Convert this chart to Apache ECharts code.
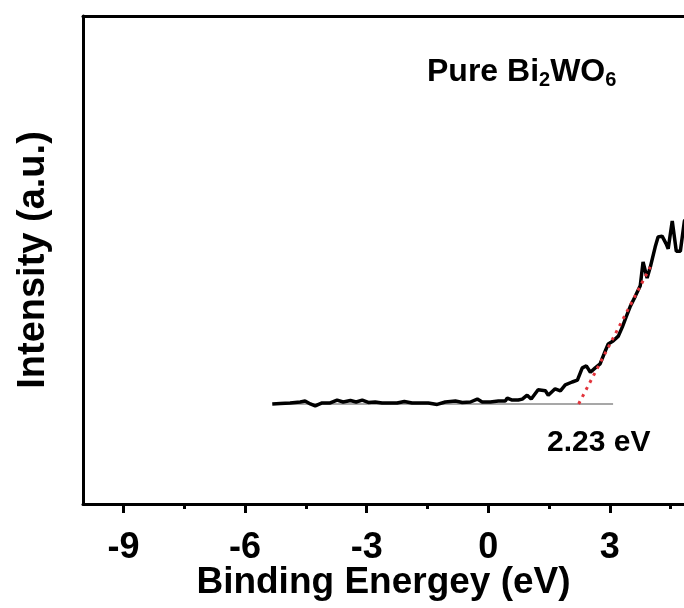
<!DOCTYPE html>
<html>
<head>
<meta charset="utf-8">
<script src="https://cdn.jsdelivr.net/npm/echarts@6/dist/echarts.min.js"></script>
<style>
  html, body { margin: 0; padding: 0; background: #fff; }
  #chart { width: 684px; height: 608px; }
</style>
</head>
<body>
<div id="chart"></div>
<script>
// VB spectrum (arbitrary intensity units 0-100)
const energy = [
  -5.33, -5.13, -4.89, -4.64, -4.52, -4.39, -4.27, -4.10, -3.90, -3.73,
  -3.58, -3.40, -3.26, -3.11, -2.96, -2.79, -2.62, -2.42, -2.25, -2.07,
  -1.88, -1.68, -1.48, -1.26, -1.06, -0.81, -0.64, -0.44, -0.27, -0.15,
  0.05, 0.25, 0.42, 0.47, 0.59, 0.74, 0.84, 0.96, 1.06, 1.23,
  1.41, 1.48, 1.65, 1.78, 1.90, 2.07, 2.20, 2.32, 2.42, 2.52,
  2.64, 2.76, 2.89, 2.96, 3.08, 3.21, 3.31, 3.40, 3.50, 3.63,
  3.75, 3.82, 3.92, 4.00, 4.12, 4.19, 4.29, 4.39, 4.44, 4.54,
  4.64, 4.74, 4.84, 4.98
];
const intensity = [
  20.5, 20.6, 20.7, 20.9, 21.1, 20.5, 20.1, 20.7, 20.7, 21.3,
  20.9, 21.2, 20.9, 21.3, 20.8, 20.9, 20.7, 20.7, 20.7, 21.0,
  20.7, 20.7, 20.7, 20.4, 20.9, 21.1, 20.8, 20.9, 21.5, 20.9,
  20.9, 21.1, 21.1, 21.7, 21.3, 21.3, 21.5, 22.3, 21.5, 23.4,
  23.2, 22.3, 23.6, 23.2, 24.4, 25.0, 25.4, 27.9, 28.3, 27.0,
  27.9, 28.7, 31.4, 32.8, 33.4, 34.4, 36.3, 38.3, 40.4, 42.6,
  44.7, 49.6, 46.3, 48.6, 52.7, 54.7, 54.9, 53.3, 52.3, 58.0,
  51.8, 51.8, 58.0, 59.4
];
// background line and band-edge tangent
const baseX = [-5.3, 3.08];
const baseY = [20.5, 20.5];
const tangentX = [2.23, 4.0];
const tangentY = [20.5, 48.6];

const majorTicks = [-9, -6, -3, 0, 3];
const minorTicks = [-7.5, -4.5, -1.5, 1.5, 4.5];

const zip = (xs, ys) => xs.map((x, i) => [x, ys[i]]);

const font = "'Liberation Sans', Arial, sans-serif";
const chart = echarts.init(document.getElementById("chart"));

const option = {
  animation: false,
  backgroundColor: "#fff",
  textStyle: { fontFamily: font },
  grid: { left: 83, right: 0, top: 16, bottom: 104, outerBoundsMode: "none", containLabel: false },
  title: {
    text: "{a|Pure Bi}{s|2}{a|WO}{s|6}",
    left: 422,
    top: 50,
    textStyle: {
      rich: {
        a: { fontSize: 32, fontWeight: "bold", color: "#000", fontFamily: font },
        s: { fontSize: 20, fontWeight: "bold", color: "#000", fontFamily: font, padding: [15, 0, 0, 0] },
      },
    },
  },
  graphic: [
    {
      type: "text",
      left: 547,
      top: 428,
      style: { text: "2.23 eV", font: "bold 30px " + font, fill: "#000" },
    },
  ],
  xAxis: [
    {
      type: "value",
      min: -10,
      max: 4.83,
      position: "bottom",
      name: "Binding Energey (eV)",
      nameLocation: "middle",
      nameGap: 60,
      nameMoveOverlap: false,
      nameTextStyle: { fontSize: 37, fontWeight: "bold", color: "#000", fontFamily: font },
      axisLine: { show: true, onZero: false, lineStyle: { color: "#000", width: 3 } },
      axisTick: { show: true, customValues: majorTicks, length: 9, lineStyle: { color: "#000", width: 3 } },
      axisLabel: {
        customValues: majorTicks,
        margin: 26,
        fontSize: 36,
        fontWeight: "bold",
        color: "#000",
        fontFamily: font,
      },
      splitLine: { show: false },
    },
    {
      type: "value",
      min: -10,
      max: 4.83,
      position: "bottom",
      axisLine: { show: false, onZero: false },
      axisTick: { show: true, customValues: minorTicks, length: 5, lineStyle: { color: "#000", width: 3 } },
      axisLabel: { show: false },
      splitLine: { show: false },
    },
    {
      type: "value",
      min: -10,
      max: 4.83,
      position: "top",
      axisLine: { show: true, onZero: false, lineStyle: { color: "#000", width: 3 } },
      axisTick: { show: false },
      axisLabel: { show: false },
      splitLine: { show: false },
    },
  ],
  yAxis: {
    type: "value",
    min: 0,
    max: 100,
    position: "left",
    name: "Intensity (a.u.)",
    nameLocation: "middle",
    nameGap: 30,
    nameTextStyle: { fontSize: 38, fontWeight: "bold", color: "#000", fontFamily: font },
    axisLine: { show: true, onZero: false, lineStyle: { color: "#000", width: 3 } },
    axisTick: { show: false },
    axisLabel: { show: false },
    splitLine: { show: false },
  },
  series: [
    {
      type: "line",
      data: zip(baseX, baseY),
      showSymbol: false,
      lineStyle: { color: "#8a8a8a", width: 1.5 },
      z: 1,
    },
    {
      type: "line",
      data: zip(energy, intensity),
      showSymbol: false,
      lineStyle: { color: "#000", width: 3.5 },
      z: 2,
    },
    {
      type: "line",
      data: zip(tangentX, tangentY),
      showSymbol: false,
      lineStyle: { color: "#e2343c", width: 3, type: [3, 5] },
      z: 3,
    },
  ],
};

chart.setOption(option);
</script>
</body>
</html>
